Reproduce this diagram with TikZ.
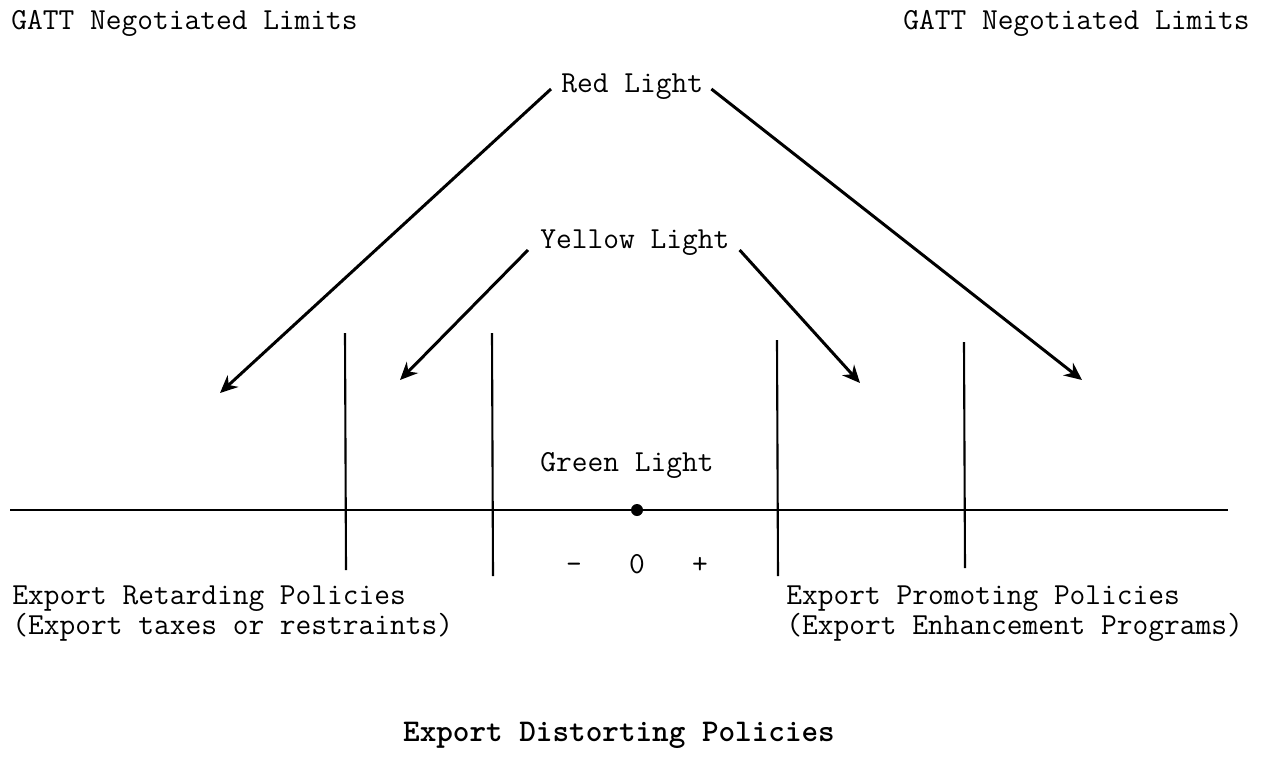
\documentclass[tikz,border=0pt]{standalone}
\usepackage{fontspec}
\usetikzlibrary{arrows.meta,positioning}

\begin{document}
\begin{tikzpicture}[x=0.02cm, y=-0.02cm,
      every node/.style={inner sep=0pt, font=\ttfamily\fontsize{17.4}{17}\selectfont},
      light/.style={-{Stealth[length=10pt,width=9pt]}, line width=1.7pt},
      bar/.style={line width=1.2pt},
      policy/.style={anchor=base west, align=left}
    ]
    \useasboundingbox (0,0) rectangle (1269,775);

    % limits at the top
    \node[anchor=base west] (gattL) at (11,29) {GATT Negotiated Limits};
    \node[anchor=base east] (gattR) at (1250,29) {GATT Negotiated Limits};

    % the three lights
    \node[anchor=base west] (red) at (561,92) {Red Light};
    \node[anchor=base west] (yellow) at (540,248) {Yellow Light};
    \node[anchor=base] (green) at (627,471) {Green Light};

    \coordinate (redL) at (220,393);
    \coordinate (redR) at (1082,380);
    \coordinate (yelL) at (400,380);
    \coordinate (yelR) at (860,383);

    \draw[light] ([xshift=-0.2cm,yshift=0.06cm]red.base west) -- (redL);
    \draw[light] ([xshift=0.16cm,yshift=0.06cm]red.base east) -- (redR);
    \draw[light] ([xshift=-0.24cm,yshift=-0.04cm]yellow.base west) -- (yelL);
    \draw[light] ([xshift=0.2cm,yshift=-0.04cm]yellow.base east) -- (yelR);

    % axis with the bounds
    \coordinate (axL) at (10,510);
    \coordinate (axR) at (1228,510);
    \draw[line width=1.5pt] (axL) -- (axR);
    \fill (637,510) circle (6);

    \draw[bar] (345,333) -- (346,570);
    \draw[bar] (492,333) -- (493,576);
    \draw[bar] (777,340) -- (778,576);
    \draw[bar] (964,342) -- (965,568);

    \node[anchor=base] (sign) at (637,573) {–~~~0~~~+};

    % policy labels
    \node[policy] (retard) at (12,634) {Export Retarding Policies\\(Export taxes or restraints)};
    \node[policy] (promote) at (786,634) {Export Promoting Policies\\(Export Enhancement Programs)};

    \node[anchor=base, font=\ttfamily\bfseries\fontsize{18}{18}\selectfont] (title) at (619,741) {Export Distorting Policies};
\end{tikzpicture}
\end{document}
